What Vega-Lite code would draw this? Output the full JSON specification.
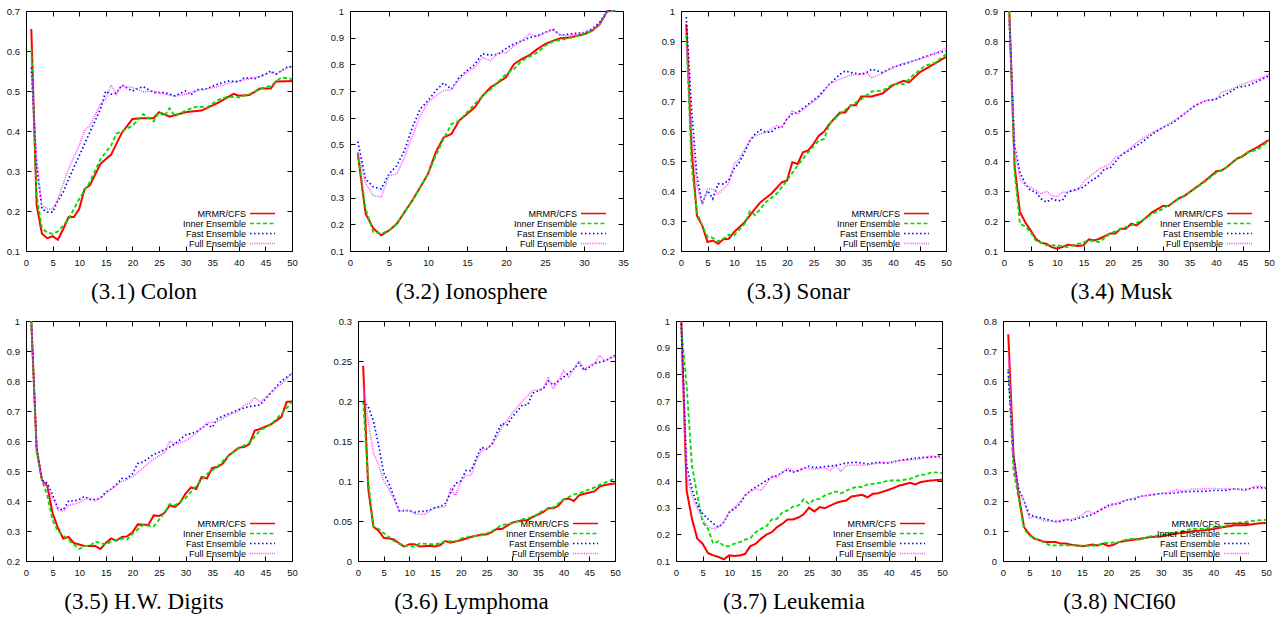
{
"$schema": "https://vega.github.io/schema/vega-lite/v6.json",
"background": "white",
"padding": {"left": 5, "top": 5, "right": 5, "bottom": 5},
"config": {
 "view": {"stroke": "black", "strokeWidth": 1},
 "axis": {"labelFont": "Liberation Sans", "labelFontSize": 9.5, "labelColor": "#111", "tickColor": "black", "tickSize": -5, "labelPadding": 11.5, "labelFlush": false, "domain": false, "grid": false, "title": null, "format": "~g"},
 "legend": {"orient": "bottom-right", "offset": 2, "padding": 0, "rowPadding": 0, "labelFont": "Liberation Sans", "labelFontSize": 9, "labelColor": "black", "labelAlign": "right", "labelOffset": -30, "symbolType": "M-6.14,0H1M4.4,0", "symbolSize": 49, "symbolStrokeWidth": 1.5, "title": null},
 "title": {"font": "Liberation Serif", "fontSize": 23, "fontWeight": "normal", "color": "black", "orient": "bottom", "offset": 14, "dx": -15},
 "line": {"clip": true}
},
"datasets": {
"colon": [
{"s":"M","x":1,"y":0.655},{"s":"M","x":2,"y":0.214},{"s":"M","x":3,"y":0.143},{"s":"M","x":4,"y":0.132},{"s":"M","x":5,"y":0.137},{"s":"M","x":6,"y":0.128},{"s":"M","x":7,"y":0.155},{"s":"M","x":8,"y":0.185},{"s":"M","x":9,"y":0.185},{"s":"M","x":10,"y":0.205},{"s":"M","x":11,"y":0.255},{"s":"M","x":12,"y":0.264},{"s":"M","x":14,"y":0.318},{"s":"M","x":16,"y":0.341},{"s":"M","x":18,"y":0.395},{"s":"M","x":20,"y":0.43},{"s":"M","x":22,"y":0.432},{"s":"M","x":24,"y":0.432},{"s":"M","x":25,"y":0.447},{"s":"M","x":27,"y":0.436},{"s":"M","x":30,"y":0.447},{"s":"M","x":33,"y":0.451},{"s":"M","x":36,"y":0.47},{"s":"M","x":39,"y":0.493},{"s":"M","x":40,"y":0.488},{"s":"M","x":42,"y":0.49},{"s":"M","x":44,"y":0.506},{"s":"M","x":46,"y":0.506},{"s":"M","x":47,"y":0.524},{"s":"M","x":50,"y":0.525},
{"s":"I","x":1,"y":0.605},{"s":"I","x":2,"y":0.239},{"s":"I","x":3,"y":0.156},{"s":"I","x":4,"y":0.147},{"s":"I","x":5,"y":0.143},{"s":"I","x":6,"y":0.149},{"s":"I","x":7,"y":0.164},{"s":"I","x":8,"y":0.18},{"s":"I","x":10,"y":0.23},{"s":"I","x":12,"y":0.272},{"s":"I","x":14,"y":0.33},{"s":"I","x":16,"y":0.364},{"s":"I","x":17,"y":0.393},{"s":"I","x":20,"y":0.413},{"s":"I","x":22,"y":0.442},{"s":"I","x":24,"y":0.424},{"s":"I","x":25,"y":0.447},{"s":"I","x":26,"y":0.437},{"s":"I","x":27,"y":0.457},{"s":"I","x":28,"y":0.437},{"s":"I","x":30,"y":0.451},{"s":"I","x":32,"y":0.461},{"s":"I","x":34,"y":0.459},{"s":"I","x":36,"y":0.477},{"s":"I","x":38,"y":0.486},{"s":"I","x":40,"y":0.484},{"s":"I","x":42,"y":0.492},{"s":"I","x":44,"y":0.506},{"s":"I","x":46,"y":0.513},{"s":"I","x":48,"y":0.534},{"s":"I","x":50,"y":0.53},
{"s":"F","x":1,"y":0.559},{"s":"F","x":2,"y":0.314},{"s":"F","x":3,"y":0.205},{"s":"F","x":4,"y":0.197},{"s":"F","x":5,"y":0.197},{"s":"F","x":6,"y":0.226},{"s":"F","x":7,"y":0.247},{"s":"F","x":8,"y":0.28},{"s":"F","x":10,"y":0.338},{"s":"F","x":12,"y":0.397},{"s":"F","x":14,"y":0.455},{"s":"F","x":15,"y":0.5},{"s":"F","x":16,"y":0.492},{"s":"F","x":17,"y":0.495},{"s":"F","x":18,"y":0.515},{"s":"F","x":20,"y":0.5},{"s":"F","x":22,"y":0.511},{"s":"F","x":24,"y":0.496},{"s":"F","x":26,"y":0.496},{"s":"F","x":28,"y":0.488},{"s":"F","x":30,"y":0.5},{"s":"F","x":31,"y":0.49},{"s":"F","x":32,"y":0.503},{"s":"F","x":34,"y":0.506},{"s":"F","x":36,"y":0.517},{"s":"F","x":38,"y":0.525},{"s":"F","x":40,"y":0.523},{"s":"F","x":41,"y":0.533},{"s":"F","x":43,"y":0.531},{"s":"F","x":45,"y":0.542},{"s":"F","x":46,"y":0.55},{"s":"F","x":47,"y":0.542},{"s":"F","x":49,"y":0.559},{"s":"F","x":50,"y":0.561},
{"s":"U","x":1,"y":0.55},{"s":"U","x":2,"y":0.33},{"s":"U","x":3,"y":0.214},{"s":"U","x":4,"y":0.205},{"s":"U","x":5,"y":0.205},{"s":"U","x":6,"y":0.23},{"s":"U","x":7,"y":0.268},{"s":"U","x":8,"y":0.305},{"s":"U","x":10,"y":0.364},{"s":"U","x":11,"y":0.401},{"s":"U","x":12,"y":0.413},{"s":"U","x":14,"y":0.467},{"s":"U","x":15,"y":0.48},{"s":"U","x":16,"y":0.515},{"s":"U","x":17,"y":0.492},{"s":"U","x":18,"y":0.513},{"s":"U","x":20,"y":0.509},{"s":"U","x":22,"y":0.498},{"s":"U","x":24,"y":0.5},{"s":"U","x":26,"y":0.492},{"s":"U","x":28,"y":0.487},{"s":"U","x":30,"y":0.492},{"s":"U","x":32,"y":0.5},{"s":"U","x":34,"y":0.505},{"s":"U","x":36,"y":0.511},{"s":"U","x":38,"y":0.519},{"s":"U","x":40,"y":0.525},{"s":"U","x":42,"y":0.531},{"s":"U","x":44,"y":0.536},{"s":"U","x":46,"y":0.547},{"s":"U","x":47,"y":0.542},{"s":"U","x":48,"y":0.55},{"s":"U","x":50,"y":0.563}
],
"iono": [
{"s":"M","x":1,"y":0.464},{"s":"M","x":2,"y":0.24},{"s":"M","x":3,"y":0.184},{"s":"M","x":4,"y":0.159},{"s":"M","x":5,"y":0.177},{"s":"M","x":6,"y":0.202},{"s":"M","x":7,"y":0.246},{"s":"M","x":8,"y":0.29},{"s":"M","x":9,"y":0.339},{"s":"M","x":10,"y":0.389},{"s":"M","x":11,"y":0.47},{"s":"M","x":12,"y":0.526},{"s":"M","x":13,"y":0.539},{"s":"M","x":14,"y":0.589},{"s":"M","x":15,"y":0.614},{"s":"M","x":16,"y":0.639},{"s":"M","x":17,"y":0.682},{"s":"M","x":18,"y":0.713},{"s":"M","x":19,"y":0.732},{"s":"M","x":20,"y":0.751},{"s":"M","x":21,"y":0.8},{"s":"M","x":22,"y":0.82},{"s":"M","x":23,"y":0.834},{"s":"M","x":24,"y":0.857},{"s":"M","x":25,"y":0.876},{"s":"M","x":26,"y":0.888},{"s":"M","x":27,"y":0.898},{"s":"M","x":28,"y":0.9},{"s":"M","x":30,"y":0.913},{"s":"M","x":31,"y":0.925},{"s":"M","x":32,"y":0.95},{"s":"M","x":33,"y":1.0},{"s":"M","x":34,"y":1.0},
{"s":"I","x":1,"y":0.47},{"s":"I","x":2,"y":0.258},{"s":"I","x":3,"y":0.171},{"s":"I","x":4,"y":0.165},{"s":"I","x":5,"y":0.177},{"s":"I","x":6,"y":0.202},{"s":"I","x":7,"y":0.246},{"s":"I","x":8,"y":0.29},{"s":"I","x":9,"y":0.339},{"s":"I","x":10,"y":0.389},{"s":"I","x":11,"y":0.458},{"s":"I","x":12,"y":0.52},{"s":"I","x":13,"y":0.576},{"s":"I","x":14,"y":0.589},{"s":"I","x":16,"y":0.651},{"s":"I","x":17,"y":0.682},{"s":"I","x":18,"y":0.705},{"s":"I","x":20,"y":0.763},{"s":"I","x":21,"y":0.782},{"s":"I","x":22,"y":0.813},{"s":"I","x":24,"y":0.844},{"s":"I","x":25,"y":0.87},{"s":"I","x":26,"y":0.885},{"s":"I","x":28,"y":0.898},{"s":"I","x":30,"y":0.913},{"s":"I","x":31,"y":0.925},{"s":"I","x":32,"y":0.95},{"s":"I","x":33,"y":1.0},{"s":"I","x":34,"y":1.0},
{"s":"F","x":1,"y":0.51},{"s":"F","x":2,"y":0.37},{"s":"F","x":3,"y":0.34},{"s":"F","x":4,"y":0.333},{"s":"F","x":5,"y":0.389},{"s":"F","x":6,"y":0.42},{"s":"F","x":7,"y":0.477},{"s":"F","x":8,"y":0.564},{"s":"F","x":9,"y":0.632},{"s":"F","x":10,"y":0.664},{"s":"F","x":11,"y":0.701},{"s":"F","x":12,"y":0.73},{"s":"F","x":13,"y":0.707},{"s":"F","x":14,"y":0.751},{"s":"F","x":15,"y":0.776},{"s":"F","x":16,"y":0.8},{"s":"F","x":17,"y":0.84},{"s":"F","x":18,"y":0.834},{"s":"F","x":19,"y":0.838},{"s":"F","x":20,"y":0.859},{"s":"F","x":21,"y":0.876},{"s":"F","x":22,"y":0.888},{"s":"F","x":23,"y":0.9},{"s":"F","x":24,"y":0.907},{"s":"F","x":25,"y":0.919},{"s":"F","x":26,"y":0.932},{"s":"F","x":27,"y":0.909},{"s":"F","x":28,"y":0.913},{"s":"F","x":30,"y":0.919},{"s":"F","x":31,"y":0.932},{"s":"F","x":32,"y":0.957},{"s":"F","x":33,"y":1.0},{"s":"F","x":34,"y":1.0},
{"s":"U","x":1,"y":0.47},{"s":"U","x":2,"y":0.352},{"s":"U","x":3,"y":0.308},{"s":"U","x":4,"y":0.302},{"s":"U","x":5,"y":0.383},{"s":"U","x":6,"y":0.389},{"s":"U","x":7,"y":0.452},{"s":"U","x":8,"y":0.533},{"s":"U","x":9,"y":0.607},{"s":"U","x":10,"y":0.657},{"s":"U","x":11,"y":0.682},{"s":"U","x":12,"y":0.701},{"s":"U","x":13,"y":0.705},{"s":"U","x":14,"y":0.745},{"s":"U","x":15,"y":0.77},{"s":"U","x":16,"y":0.788},{"s":"U","x":17,"y":0.826},{"s":"U","x":18,"y":0.813},{"s":"U","x":19,"y":0.844},{"s":"U","x":20,"y":0.842},{"s":"U","x":21,"y":0.869},{"s":"U","x":22,"y":0.888},{"s":"U","x":23,"y":0.915},{"s":"U","x":24,"y":0.904},{"s":"U","x":25,"y":0.919},{"s":"U","x":26,"y":0.929},{"s":"U","x":27,"y":0.909},{"s":"U","x":28,"y":0.907},{"s":"U","x":30,"y":0.919},{"s":"U","x":31,"y":0.929},{"s":"U","x":32,"y":0.954},{"s":"U","x":33,"y":0.996},{"s":"U","x":34,"y":1.0}
],
"sonar": [
{"s":"M","x":1,"y":0.956},{"s":"M","x":2,"y":0.54},{"s":"M","x":3,"y":0.318},{"s":"M","x":4,"y":0.285},{"s":"M","x":5,"y":0.23},{"s":"M","x":6,"y":0.235},{"s":"M","x":7,"y":0.224},{"s":"M","x":8,"y":0.239},{"s":"M","x":9,"y":0.241},{"s":"M","x":10,"y":0.263},{"s":"M","x":12,"y":0.296},{"s":"M","x":14,"y":0.341},{"s":"M","x":15,"y":0.363},{"s":"M","x":17,"y":0.39},{"s":"M","x":19,"y":0.429},{"s":"M","x":20,"y":0.435},{"s":"M","x":21,"y":0.496},{"s":"M","x":22,"y":0.49},{"s":"M","x":23,"y":0.529},{"s":"M","x":24,"y":0.535},{"s":"M","x":25,"y":0.557},{"s":"M","x":26,"y":0.584},{"s":"M","x":27,"y":0.598},{"s":"M","x":28,"y":0.623},{"s":"M","x":30,"y":0.662},{"s":"M","x":31,"y":0.662},{"s":"M","x":32,"y":0.686},{"s":"M","x":33,"y":0.686},{"s":"M","x":34,"y":0.715},{"s":"M","x":36,"y":0.715},{"s":"M","x":38,"y":0.725},{"s":"M","x":40,"y":0.753},{"s":"M","x":42,"y":0.767},{"s":"M","x":43,"y":0.762},{"s":"M","x":45,"y":0.795},{"s":"M","x":48,"y":0.826},{"s":"M","x":50,"y":0.847},
{"s":"I","x":1,"y":0.92},{"s":"I","x":2,"y":0.485},{"s":"I","x":3,"y":0.33},{"s":"I","x":4,"y":0.285},{"s":"I","x":5,"y":0.247},{"s":"I","x":6,"y":0.244},{"s":"I","x":7,"y":0.232},{"s":"I","x":8,"y":0.241},{"s":"I","x":9,"y":0.254},{"s":"I","x":10,"y":0.252},{"s":"I","x":12,"y":0.291},{"s":"I","x":13,"y":0.332},{"s":"I","x":14,"y":0.319},{"s":"I","x":16,"y":0.363},{"s":"I","x":18,"y":0.39},{"s":"I","x":20,"y":0.435},{"s":"I","x":22,"y":0.485},{"s":"I","x":24,"y":0.529},{"s":"I","x":26,"y":0.568},{"s":"I","x":27,"y":0.573},{"s":"I","x":28,"y":0.623},{"s":"I","x":30,"y":0.657},{"s":"I","x":32,"y":0.684},{"s":"I","x":34,"y":0.706},{"s":"I","x":36,"y":0.732},{"s":"I","x":38,"y":0.734},{"s":"I","x":40,"y":0.756},{"s":"I","x":42,"y":0.756},{"s":"I","x":44,"y":0.789},{"s":"I","x":46,"y":0.817},{"s":"I","x":48,"y":0.828},{"s":"I","x":50,"y":0.856},
{"s":"F","x":1,"y":0.98},{"s":"F","x":2,"y":0.673},{"s":"F","x":3,"y":0.45},{"s":"F","x":4,"y":0.357},{"s":"F","x":5,"y":0.402},{"s":"F","x":6,"y":0.374},{"s":"F","x":7,"y":0.424},{"s":"F","x":8,"y":0.424},{"s":"F","x":9,"y":0.435},{"s":"F","x":10,"y":0.474},{"s":"F","x":11,"y":0.496},{"s":"F","x":12,"y":0.529},{"s":"F","x":13,"y":0.568},{"s":"F","x":14,"y":0.59},{"s":"F","x":15,"y":0.604},{"s":"F","x":16,"y":0.596},{"s":"F","x":17,"y":0.596},{"s":"F","x":18,"y":0.612},{"s":"F","x":19,"y":0.612},{"s":"F","x":20,"y":0.64},{"s":"F","x":21,"y":0.657},{"s":"F","x":22,"y":0.662},{"s":"F","x":24,"y":0.689},{"s":"F","x":26,"y":0.717},{"s":"F","x":28,"y":0.756},{"s":"F","x":30,"y":0.789},{"s":"F","x":31,"y":0.8},{"s":"F","x":32,"y":0.795},{"s":"F","x":34,"y":0.789},{"s":"F","x":35,"y":0.795},{"s":"F","x":36,"y":0.806},{"s":"F","x":38,"y":0.795},{"s":"F","x":40,"y":0.812},{"s":"F","x":42,"y":0.823},{"s":"F","x":44,"y":0.834},{"s":"F","x":46,"y":0.848},{"s":"F","x":48,"y":0.859},{"s":"F","x":50,"y":0.867},
{"s":"U","x":1,"y":0.9},{"s":"U","x":2,"y":0.6},{"s":"U","x":3,"y":0.42},{"s":"U","x":4,"y":0.355},{"s":"U","x":5,"y":0.407},{"s":"U","x":6,"y":0.407},{"s":"U","x":7,"y":0.39},{"s":"U","x":8,"y":0.407},{"s":"U","x":9,"y":0.424},{"s":"U","x":10,"y":0.49},{"s":"U","x":11,"y":0.507},{"s":"U","x":12,"y":0.54},{"s":"U","x":13,"y":0.568},{"s":"U","x":14,"y":0.584},{"s":"U","x":16,"y":0.596},{"s":"U","x":18,"y":0.618},{"s":"U","x":19,"y":0.612},{"s":"U","x":20,"y":0.64},{"s":"U","x":21,"y":0.668},{"s":"U","x":22,"y":0.657},{"s":"U","x":24,"y":0.684},{"s":"U","x":26,"y":0.712},{"s":"U","x":28,"y":0.756},{"s":"U","x":30,"y":0.773},{"s":"U","x":32,"y":0.786},{"s":"U","x":34,"y":0.789},{"s":"U","x":35,"y":0.793},{"s":"U","x":36,"y":0.776},{"s":"U","x":38,"y":0.793},{"s":"U","x":40,"y":0.812},{"s":"U","x":42,"y":0.826},{"s":"U","x":44,"y":0.834},{"s":"U","x":46,"y":0.845},{"s":"U","x":48,"y":0.859},{"s":"U","x":50,"y":0.878}
],
"musk": [
{"s":"M","x":1,"y":0.9},{"s":"M","x":2,"y":0.385},{"s":"M","x":3,"y":0.23},{"s":"M","x":4,"y":0.196},{"s":"M","x":5,"y":0.169},{"s":"M","x":6,"y":0.141},{"s":"M","x":7,"y":0.127},{"s":"M","x":8,"y":0.124},{"s":"M","x":9,"y":0.113},{"s":"M","x":10,"y":0.108},{"s":"M","x":11,"y":0.113},{"s":"M","x":12,"y":0.121},{"s":"M","x":14,"y":0.117},{"s":"M","x":15,"y":0.119},{"s":"M","x":16,"y":0.139},{"s":"M","x":17,"y":0.135},{"s":"M","x":18,"y":0.141},{"s":"M","x":20,"y":0.158},{"s":"M","x":21,"y":0.158},{"s":"M","x":22,"y":0.174},{"s":"M","x":23,"y":0.174},{"s":"M","x":24,"y":0.191},{"s":"M","x":25,"y":0.185},{"s":"M","x":26,"y":0.199},{"s":"M","x":28,"y":0.23},{"s":"M","x":30,"y":0.25},{"s":"M","x":31,"y":0.25},{"s":"M","x":33,"y":0.276},{"s":"M","x":34,"y":0.283},{"s":"M","x":36,"y":0.309},{"s":"M","x":38,"y":0.335},{"s":"M","x":40,"y":0.365},{"s":"M","x":41,"y":0.368},{"s":"M","x":42,"y":0.379},{"s":"M","x":44,"y":0.409},{"s":"M","x":45,"y":0.415},{"s":"M","x":46,"y":0.429},{"s":"M","x":48,"y":0.448},{"s":"M","x":50,"y":0.47},
{"s":"I","x":1,"y":0.9},{"s":"I","x":2,"y":0.363},{"s":"I","x":3,"y":0.191},{"s":"I","x":4,"y":0.182},{"s":"I","x":5,"y":0.163},{"s":"I","x":6,"y":0.135},{"s":"I","x":8,"y":0.119},{"s":"I","x":10,"y":0.119},{"s":"I","x":12,"y":0.113},{"s":"I","x":14,"y":0.124},{"s":"I","x":16,"y":0.135},{"s":"I","x":18,"y":0.13},{"s":"I","x":20,"y":0.158},{"s":"I","x":22,"y":0.174},{"s":"I","x":24,"y":0.185},{"s":"I","x":26,"y":0.202},{"s":"I","x":28,"y":0.224},{"s":"I","x":30,"y":0.241},{"s":"I","x":32,"y":0.263},{"s":"I","x":34,"y":0.285},{"s":"I","x":36,"y":0.307},{"s":"I","x":38,"y":0.332},{"s":"I","x":40,"y":0.36},{"s":"I","x":42,"y":0.379},{"s":"I","x":44,"y":0.407},{"s":"I","x":46,"y":0.427},{"s":"I","x":48,"y":0.44},{"s":"I","x":50,"y":0.468},
{"s":"F","x":1,"y":0.87},{"s":"F","x":2,"y":0.451},{"s":"F","x":3,"y":0.363},{"s":"F","x":4,"y":0.324},{"s":"F","x":5,"y":0.302},{"s":"F","x":6,"y":0.296},{"s":"F","x":7,"y":0.274},{"s":"F","x":8,"y":0.263},{"s":"F","x":9,"y":0.274},{"s":"F","x":10,"y":0.268},{"s":"F","x":11,"y":0.268},{"s":"F","x":12,"y":0.296},{"s":"F","x":13,"y":0.302},{"s":"F","x":14,"y":0.307},{"s":"F","x":15,"y":0.313},{"s":"F","x":16,"y":0.329},{"s":"F","x":17,"y":0.34},{"s":"F","x":18,"y":0.352},{"s":"F","x":19,"y":0.374},{"s":"F","x":20,"y":0.376},{"s":"F","x":22,"y":0.418},{"s":"F","x":24,"y":0.44},{"s":"F","x":26,"y":0.462},{"s":"F","x":28,"y":0.49},{"s":"F","x":30,"y":0.512},{"s":"F","x":32,"y":0.529},{"s":"F","x":34,"y":0.557},{"s":"F","x":36,"y":0.584},{"s":"F","x":38,"y":0.601},{"s":"F","x":40,"y":0.606},{"s":"F","x":42,"y":0.623},{"s":"F","x":44,"y":0.645},{"s":"F","x":46,"y":0.651},{"s":"F","x":48,"y":0.667},{"s":"F","x":50,"y":0.684},
{"s":"U","x":1,"y":0.87},{"s":"U","x":2,"y":0.44},{"s":"U","x":3,"y":0.34},{"s":"U","x":4,"y":0.318},{"s":"U","x":5,"y":0.313},{"s":"U","x":6,"y":0.302},{"s":"U","x":7,"y":0.291},{"s":"U","x":8,"y":0.298},{"s":"U","x":9,"y":0.285},{"s":"U","x":10,"y":0.28},{"s":"U","x":11,"y":0.296},{"s":"U","x":12,"y":0.296},{"s":"U","x":14,"y":0.305},{"s":"U","x":15,"y":0.329},{"s":"U","x":16,"y":0.346},{"s":"U","x":18,"y":0.374},{"s":"U","x":20,"y":0.39},{"s":"U","x":21,"y":0.412},{"s":"U","x":22,"y":0.418},{"s":"U","x":24,"y":0.446},{"s":"U","x":26,"y":0.473},{"s":"U","x":28,"y":0.495},{"s":"U","x":30,"y":0.512},{"s":"U","x":32,"y":0.534},{"s":"U","x":34,"y":0.557},{"s":"U","x":36,"y":0.584},{"s":"U","x":38,"y":0.601},{"s":"U","x":40,"y":0.606},{"s":"U","x":41,"y":0.628},{"s":"U","x":43,"y":0.64},{"s":"U","x":44,"y":0.649},{"s":"U","x":46,"y":0.662},{"s":"U","x":48,"y":0.673},{"s":"U","x":50,"y":0.69}
],
"digits": [
{"s":"M","x":1,"y":1.0},{"s":"M","x":2,"y":0.573},{"s":"M","x":3,"y":0.47},{"s":"M","x":4,"y":0.45},{"s":"M","x":5,"y":0.36},{"s":"M","x":6,"y":0.31},{"s":"M","x":7,"y":0.275},{"s":"M","x":8,"y":0.28},{"s":"M","x":9,"y":0.26},{"s":"M","x":10,"y":0.255},{"s":"M","x":11,"y":0.25},{"s":"M","x":13,"y":0.25},{"s":"M","x":14,"y":0.24},{"s":"M","x":15,"y":0.26},{"s":"M","x":16,"y":0.275},{"s":"M","x":17,"y":0.268},{"s":"M","x":18,"y":0.28},{"s":"M","x":19,"y":0.282},{"s":"M","x":20,"y":0.295},{"s":"M","x":21,"y":0.322},{"s":"M","x":23,"y":0.32},{"s":"M","x":24,"y":0.352},{"s":"M","x":25,"y":0.35},{"s":"M","x":26,"y":0.36},{"s":"M","x":27,"y":0.385},{"s":"M","x":28,"y":0.38},{"s":"M","x":29,"y":0.395},{"s":"M","x":30,"y":0.425},{"s":"M","x":31,"y":0.445},{"s":"M","x":32,"y":0.44},{"s":"M","x":33,"y":0.48},{"s":"M","x":34,"y":0.475},{"s":"M","x":35,"y":0.51},{"s":"M","x":36,"y":0.513},{"s":"M","x":37,"y":0.525},{"s":"M","x":38,"y":0.55},{"s":"M","x":40,"y":0.578},{"s":"M","x":41,"y":0.58},{"s":"M","x":42,"y":0.59},{"s":"M","x":43,"y":0.635},{"s":"M","x":44,"y":0.64},{"s":"M","x":46,"y":0.655},{"s":"M","x":48,"y":0.68},{"s":"M","x":49,"y":0.73},{"s":"M","x":50,"y":0.732},
{"s":"I","x":1,"y":1.0},{"s":"I","x":2,"y":0.56},{"s":"I","x":3,"y":0.47},{"s":"I","x":4,"y":0.418},{"s":"I","x":5,"y":0.335},{"s":"I","x":6,"y":0.3},{"s":"I","x":7,"y":0.285},{"s":"I","x":8,"y":0.27},{"s":"I","x":9,"y":0.255},{"s":"I","x":10,"y":0.24},{"s":"I","x":11,"y":0.25},{"s":"I","x":12,"y":0.25},{"s":"I","x":13,"y":0.265},{"s":"I","x":14,"y":0.26},{"s":"I","x":15,"y":0.255},{"s":"I","x":16,"y":0.265},{"s":"I","x":18,"y":0.275},{"s":"I","x":19,"y":0.272},{"s":"I","x":20,"y":0.29},{"s":"I","x":22,"y":0.32},{"s":"I","x":24,"y":0.315},{"s":"I","x":26,"y":0.36},{"s":"I","x":27,"y":0.39},{"s":"I","x":28,"y":0.385},{"s":"I","x":30,"y":0.41},{"s":"I","x":32,"y":0.45},{"s":"I","x":34,"y":0.49},{"s":"I","x":36,"y":0.515},{"s":"I","x":38,"y":0.55},{"s":"I","x":40,"y":0.575},{"s":"I","x":42,"y":0.595},{"s":"I","x":44,"y":0.635},{"s":"I","x":46,"y":0.655},{"s":"I","x":48,"y":0.69},{"s":"I","x":50,"y":0.73},
{"s":"F","x":1,"y":1.0},{"s":"F","x":2,"y":0.58},{"s":"F","x":3,"y":0.47},{"s":"F","x":4,"y":0.46},{"s":"F","x":5,"y":0.42},{"s":"F","x":6,"y":0.375},{"s":"F","x":7,"y":0.37},{"s":"F","x":8,"y":0.4},{"s":"F","x":9,"y":0.4},{"s":"F","x":10,"y":0.405},{"s":"F","x":11,"y":0.415},{"s":"F","x":12,"y":0.405},{"s":"F","x":13,"y":0.405},{"s":"F","x":14,"y":0.41},{"s":"F","x":15,"y":0.43},{"s":"F","x":16,"y":0.44},{"s":"F","x":17,"y":0.455},{"s":"F","x":18,"y":0.475},{"s":"F","x":19,"y":0.475},{"s":"F","x":20,"y":0.49},{"s":"F","x":21,"y":0.525},{"s":"F","x":22,"y":0.53},{"s":"F","x":24,"y":0.555},{"s":"F","x":26,"y":0.57},{"s":"F","x":28,"y":0.59},{"s":"F","x":30,"y":0.62},{"s":"F","x":32,"y":0.63},{"s":"F","x":34,"y":0.655},{"s":"F","x":35,"y":0.645},{"s":"F","x":36,"y":0.675},{"s":"F","x":38,"y":0.69},{"s":"F","x":40,"y":0.705},{"s":"F","x":42,"y":0.715},{"s":"F","x":44,"y":0.72},{"s":"F","x":46,"y":0.76},{"s":"F","x":48,"y":0.8},{"s":"F","x":50,"y":0.825},
{"s":"U","x":1,"y":1.0},{"s":"U","x":2,"y":0.57},{"s":"U","x":3,"y":0.47},{"s":"U","x":4,"y":0.45},{"s":"U","x":5,"y":0.41},{"s":"U","x":6,"y":0.37},{"s":"U","x":7,"y":0.365},{"s":"U","x":8,"y":0.385},{"s":"U","x":9,"y":0.39},{"s":"U","x":10,"y":0.395},{"s":"U","x":11,"y":0.405},{"s":"U","x":12,"y":0.41},{"s":"U","x":13,"y":0.4},{"s":"U","x":14,"y":0.41},{"s":"U","x":15,"y":0.425},{"s":"U","x":16,"y":0.44},{"s":"U","x":18,"y":0.465},{"s":"U","x":20,"y":0.48},{"s":"U","x":22,"y":0.51},{"s":"U","x":24,"y":0.54},{"s":"U","x":26,"y":0.56},{"s":"U","x":27,"y":0.6},{"s":"U","x":28,"y":0.59},{"s":"U","x":30,"y":0.6},{"s":"U","x":32,"y":0.625},{"s":"U","x":34,"y":0.66},{"s":"U","x":36,"y":0.665},{"s":"U","x":38,"y":0.685},{"s":"U","x":40,"y":0.7},{"s":"U","x":41,"y":0.72},{"s":"U","x":42,"y":0.725},{"s":"U","x":43,"y":0.745},{"s":"U","x":44,"y":0.73},{"s":"U","x":46,"y":0.76},{"s":"U","x":48,"y":0.79},{"s":"U","x":50,"y":0.825}
],
"lymph": [
{"s":"M","x":1,"y":0.244},{"s":"M","x":2,"y":0.09},{"s":"M","x":3,"y":0.043},{"s":"M","x":4,"y":0.038},{"s":"M","x":5,"y":0.029},{"s":"M","x":6,"y":0.028},{"s":"M","x":7,"y":0.027},{"s":"M","x":8,"y":0.022},{"s":"M","x":9,"y":0.018},{"s":"M","x":10,"y":0.021},{"s":"M","x":11,"y":0.021},{"s":"M","x":12,"y":0.018},{"s":"M","x":14,"y":0.019},{"s":"M","x":15,"y":0.018},{"s":"M","x":16,"y":0.02},{"s":"M","x":17,"y":0.025},{"s":"M","x":18,"y":0.023},{"s":"M","x":20,"y":0.026},{"s":"M","x":22,"y":0.03},{"s":"M","x":24,"y":0.033},{"s":"M","x":25,"y":0.033},{"s":"M","x":26,"y":0.036},{"s":"M","x":27,"y":0.04},{"s":"M","x":28,"y":0.04},{"s":"M","x":30,"y":0.048},{"s":"M","x":32,"y":0.051},{"s":"M","x":33,"y":0.051},{"s":"M","x":34,"y":0.055},{"s":"M","x":36,"y":0.061},{"s":"M","x":37,"y":0.066},{"s":"M","x":38,"y":0.066},{"s":"M","x":39,"y":0.069},{"s":"M","x":40,"y":0.077},{"s":"M","x":41,"y":0.078},{"s":"M","x":42,"y":0.075},{"s":"M","x":43,"y":0.082},{"s":"M","x":44,"y":0.084},{"s":"M","x":46,"y":0.087},{"s":"M","x":47,"y":0.093},{"s":"M","x":48,"y":0.095},{"s":"M","x":50,"y":0.097},
{"s":"I","x":1,"y":0.2},{"s":"I","x":2,"y":0.1},{"s":"I","x":3,"y":0.043},{"s":"I","x":4,"y":0.04},{"s":"I","x":5,"y":0.035},{"s":"I","x":6,"y":0.03},{"s":"I","x":7,"y":0.025},{"s":"I","x":8,"y":0.022},{"s":"I","x":9,"y":0.019},{"s":"I","x":10,"y":0.019},{"s":"I","x":11,"y":0.018},{"s":"I","x":12,"y":0.022},{"s":"I","x":14,"y":0.021},{"s":"I","x":15,"y":0.021},{"s":"I","x":16,"y":0.022},{"s":"I","x":17,"y":0.025},{"s":"I","x":19,"y":0.024},{"s":"I","x":20,"y":0.028},{"s":"I","x":22,"y":0.031},{"s":"I","x":24,"y":0.032},{"s":"I","x":26,"y":0.037},{"s":"I","x":28,"y":0.045},{"s":"I","x":30,"y":0.047},{"s":"I","x":32,"y":0.052},{"s":"I","x":34,"y":0.055},{"s":"I","x":36,"y":0.063},{"s":"I","x":38,"y":0.067},{"s":"I","x":40,"y":0.077},{"s":"I","x":42,"y":0.083},{"s":"I","x":44,"y":0.087},{"s":"I","x":46,"y":0.092},{"s":"I","x":48,"y":0.098},{"s":"I","x":50,"y":0.103},
{"s":"F","x":1,"y":0.2},{"s":"F","x":2,"y":0.193},{"s":"F","x":3,"y":0.175},{"s":"F","x":4,"y":0.145},{"s":"F","x":5,"y":0.11},{"s":"F","x":6,"y":0.097},{"s":"F","x":7,"y":0.08},{"s":"F","x":8,"y":0.063},{"s":"F","x":9,"y":0.063},{"s":"F","x":10,"y":0.063},{"s":"F","x":11,"y":0.061},{"s":"F","x":12,"y":0.062},{"s":"F","x":13,"y":0.062},{"s":"F","x":14,"y":0.064},{"s":"F","x":15,"y":0.067},{"s":"F","x":16,"y":0.068},{"s":"F","x":17,"y":0.072},{"s":"F","x":18,"y":0.085},{"s":"F","x":19,"y":0.097},{"s":"F","x":20,"y":0.1},{"s":"F","x":21,"y":0.113},{"s":"F","x":22,"y":0.113},{"s":"F","x":23,"y":0.128},{"s":"F","x":24,"y":0.142},{"s":"F","x":25,"y":0.14},{"s":"F","x":26,"y":0.145},{"s":"F","x":27,"y":0.16},{"s":"F","x":28,"y":0.172},{"s":"F","x":29,"y":0.17},{"s":"F","x":30,"y":0.18},{"s":"F","x":32,"y":0.195},{"s":"F","x":33,"y":0.195},{"s":"F","x":34,"y":0.21},{"s":"F","x":36,"y":0.215},{"s":"F","x":37,"y":0.225},{"s":"F","x":38,"y":0.22},{"s":"F","x":40,"y":0.23},{"s":"F","x":42,"y":0.24},{"s":"F","x":43,"y":0.248},{"s":"F","x":44,"y":0.238},{"s":"F","x":46,"y":0.247},{"s":"F","x":48,"y":0.25},{"s":"F","x":50,"y":0.257},
{"s":"U","x":1,"y":0.22},{"s":"U","x":2,"y":0.175},{"s":"U","x":3,"y":0.135},{"s":"U","x":4,"y":0.12},{"s":"U","x":5,"y":0.1},{"s":"U","x":6,"y":0.09},{"s":"U","x":7,"y":0.077},{"s":"U","x":8,"y":0.062},{"s":"U","x":9,"y":0.063},{"s":"U","x":10,"y":0.063},{"s":"U","x":11,"y":0.059},{"s":"U","x":13,"y":0.058},{"s":"U","x":14,"y":0.063},{"s":"U","x":15,"y":0.066},{"s":"U","x":17,"y":0.068},{"s":"U","x":18,"y":0.09},{"s":"U","x":19,"y":0.082},{"s":"U","x":20,"y":0.1},{"s":"U","x":21,"y":0.107},{"s":"U","x":22,"y":0.107},{"s":"U","x":23,"y":0.125},{"s":"U","x":24,"y":0.137},{"s":"U","x":26,"y":0.145},{"s":"U","x":27,"y":0.155},{"s":"U","x":28,"y":0.167},{"s":"U","x":29,"y":0.175},{"s":"U","x":30,"y":0.185},{"s":"U","x":32,"y":0.2},{"s":"U","x":34,"y":0.213},{"s":"U","x":36,"y":0.215},{"s":"U","x":37,"y":0.23},{"s":"U","x":38,"y":0.215},{"s":"U","x":40,"y":0.238},{"s":"U","x":41,"y":0.23},{"s":"U","x":43,"y":0.25},{"s":"U","x":44,"y":0.24},{"s":"U","x":46,"y":0.247},{"s":"U","x":47,"y":0.257},{"s":"U","x":48,"y":0.25},{"s":"U","x":50,"y":0.256}
],
"leuk": [
{"s":"M","x":1,"y":1.0},{"s":"M","x":2,"y":0.364},{"s":"M","x":3,"y":0.258},{"s":"M","x":4,"y":0.184},{"s":"M","x":5,"y":0.165},{"s":"M","x":6,"y":0.13},{"s":"M","x":7,"y":0.121},{"s":"M","x":8,"y":0.115},{"s":"M","x":9,"y":0.106},{"s":"M","x":10,"y":0.121},{"s":"M","x":11,"y":0.119},{"s":"M","x":12,"y":0.121},{"s":"M","x":13,"y":0.127},{"s":"M","x":14,"y":0.156},{"s":"M","x":15,"y":0.165},{"s":"M","x":16,"y":0.184},{"s":"M","x":17,"y":0.199},{"s":"M","x":18,"y":0.208},{"s":"M","x":19,"y":0.227},{"s":"M","x":20,"y":0.24},{"s":"M","x":21,"y":0.256},{"s":"M","x":22,"y":0.256},{"s":"M","x":23,"y":0.263},{"s":"M","x":24,"y":0.275},{"s":"M","x":25,"y":0.3},{"s":"M","x":26,"y":0.286},{"s":"M","x":27,"y":0.302},{"s":"M","x":28,"y":0.298},{"s":"M","x":30,"y":0.317},{"s":"M","x":31,"y":0.323},{"s":"M","x":32,"y":0.327},{"s":"M","x":33,"y":0.342},{"s":"M","x":35,"y":0.348},{"s":"M","x":36,"y":0.339},{"s":"M","x":37,"y":0.352},{"s":"M","x":38,"y":0.354},{"s":"M","x":40,"y":0.367},{"s":"M","x":42,"y":0.383},{"s":"M","x":44,"y":0.393},{"s":"M","x":45,"y":0.387},{"s":"M","x":46,"y":0.396},{"s":"M","x":48,"y":0.402},{"s":"M","x":50,"y":0.405},
{"s":"I","x":1,"y":0.97},{"s":"I","x":2,"y":0.757},{"s":"I","x":3,"y":0.458},{"s":"I","x":4,"y":0.346},{"s":"I","x":5,"y":0.246},{"s":"I","x":6,"y":0.221},{"s":"I","x":7,"y":0.165},{"s":"I","x":8,"y":0.174},{"s":"I","x":9,"y":0.155},{"s":"I","x":10,"y":0.156},{"s":"I","x":11,"y":0.165},{"s":"I","x":12,"y":0.171},{"s":"I","x":13,"y":0.18},{"s":"I","x":14,"y":0.186},{"s":"I","x":15,"y":0.208},{"s":"I","x":16,"y":0.221},{"s":"I","x":17,"y":0.23},{"s":"I","x":18,"y":0.256},{"s":"I","x":19,"y":0.258},{"s":"I","x":20,"y":0.283},{"s":"I","x":21,"y":0.29},{"s":"I","x":22,"y":0.304},{"s":"I","x":23,"y":0.308},{"s":"I","x":24,"y":0.331},{"s":"I","x":25,"y":0.314},{"s":"I","x":26,"y":0.331},{"s":"I","x":27,"y":0.333},{"s":"I","x":28,"y":0.346},{"s":"I","x":30,"y":0.361},{"s":"I","x":31,"y":0.354},{"s":"I","x":32,"y":0.364},{"s":"I","x":34,"y":0.379},{"s":"I","x":35,"y":0.377},{"s":"I","x":36,"y":0.387},{"s":"I","x":38,"y":0.392},{"s":"I","x":40,"y":0.402},{"s":"I","x":42,"y":0.402},{"s":"I","x":44,"y":0.408},{"s":"I","x":46,"y":0.424},{"s":"I","x":47,"y":0.424},{"s":"I","x":48,"y":0.433},{"s":"I","x":50,"y":0.43},
{"s":"F","x":1,"y":0.99},{"s":"F","x":2,"y":0.458},{"s":"F","x":3,"y":0.37},{"s":"F","x":4,"y":0.308},{"s":"F","x":5,"y":0.277},{"s":"F","x":6,"y":0.258},{"s":"F","x":7,"y":0.24},{"s":"F","x":8,"y":0.227},{"s":"F","x":9,"y":0.246},{"s":"F","x":10,"y":0.283},{"s":"F","x":11,"y":0.296},{"s":"F","x":12,"y":0.314},{"s":"F","x":13,"y":0.346},{"s":"F","x":14,"y":0.364},{"s":"F","x":15,"y":0.377},{"s":"F","x":16,"y":0.389},{"s":"F","x":17,"y":0.402},{"s":"F","x":18,"y":0.414},{"s":"F","x":19,"y":0.42},{"s":"F","x":20,"y":0.433},{"s":"F","x":21,"y":0.442},{"s":"F","x":22,"y":0.433},{"s":"F","x":23,"y":0.439},{"s":"F","x":24,"y":0.448},{"s":"F","x":25,"y":0.455},{"s":"F","x":26,"y":0.45},{"s":"F","x":28,"y":0.454},{"s":"F","x":30,"y":0.458},{"s":"F","x":32,"y":0.468},{"s":"F","x":34,"y":0.47},{"s":"F","x":36,"y":0.464},{"s":"F","x":38,"y":0.47},{"s":"F","x":40,"y":0.467},{"s":"F","x":42,"y":0.477},{"s":"F","x":44,"y":0.483},{"s":"F","x":46,"y":0.488},{"s":"F","x":48,"y":0.489},{"s":"F","x":50,"y":0.495},
{"s":"U","x":1,"y":0.88},{"s":"U","x":2,"y":0.42},{"s":"U","x":3,"y":0.346},{"s":"U","x":4,"y":0.296},{"s":"U","x":5,"y":0.258},{"s":"U","x":6,"y":0.227},{"s":"U","x":7,"y":0.221},{"s":"U","x":8,"y":0.227},{"s":"U","x":9,"y":0.246},{"s":"U","x":10,"y":0.283},{"s":"U","x":11,"y":0.302},{"s":"U","x":12,"y":0.321},{"s":"U","x":13,"y":0.346},{"s":"U","x":14,"y":0.361},{"s":"U","x":15,"y":0.371},{"s":"U","x":16,"y":0.364},{"s":"U","x":17,"y":0.389},{"s":"U","x":18,"y":0.42},{"s":"U","x":19,"y":0.414},{"s":"U","x":20,"y":0.433},{"s":"U","x":21,"y":0.448},{"s":"U","x":22,"y":0.437},{"s":"U","x":23,"y":0.437},{"s":"U","x":24,"y":0.448},{"s":"U","x":26,"y":0.445},{"s":"U","x":28,"y":0.449},{"s":"U","x":29,"y":0.439},{"s":"U","x":30,"y":0.458},{"s":"U","x":31,"y":0.437},{"s":"U","x":32,"y":0.458},{"s":"U","x":34,"y":0.46},{"s":"U","x":36,"y":0.46},{"s":"U","x":38,"y":0.467},{"s":"U","x":40,"y":0.47},{"s":"U","x":42,"y":0.477},{"s":"U","x":44,"y":0.479},{"s":"U","x":46,"y":0.483},{"s":"U","x":48,"y":0.494},{"s":"U","x":50,"y":0.485}
],
"nci": [
{"s":"M","x":1,"y":0.756},{"s":"M","x":2,"y":0.351},{"s":"M","x":3,"y":0.218},{"s":"M","x":4,"y":0.113},{"s":"M","x":5,"y":0.089},{"s":"M","x":6,"y":0.074},{"s":"M","x":7,"y":0.069},{"s":"M","x":8,"y":0.063},{"s":"M","x":10,"y":0.063},{"s":"M","x":11,"y":0.058},{"s":"M","x":12,"y":0.058},{"s":"M","x":13,"y":0.054},{"s":"M","x":14,"y":0.052},{"s":"M","x":15,"y":0.049},{"s":"M","x":16,"y":0.052},{"s":"M","x":17,"y":0.055},{"s":"M","x":18,"y":0.052},{"s":"M","x":19,"y":0.058},{"s":"M","x":20,"y":0.05},{"s":"M","x":21,"y":0.054},{"s":"M","x":22,"y":0.063},{"s":"M","x":24,"y":0.069},{"s":"M","x":26,"y":0.074},{"s":"M","x":28,"y":0.08},{"s":"M","x":30,"y":0.082},{"s":"M","x":32,"y":0.088},{"s":"M","x":34,"y":0.094},{"s":"M","x":36,"y":0.099},{"s":"M","x":38,"y":0.102},{"s":"M","x":40,"y":0.107},{"s":"M","x":42,"y":0.113},{"s":"M","x":44,"y":0.119},{"s":"M","x":46,"y":0.119},{"s":"M","x":48,"y":0.124},{"s":"M","x":50,"y":0.127},
{"s":"I","x":1,"y":0.64},{"s":"I","x":2,"y":0.3},{"s":"I","x":3,"y":0.207},{"s":"I","x":4,"y":0.107},{"s":"I","x":5,"y":0.085},{"s":"I","x":6,"y":0.076},{"s":"I","x":7,"y":0.069},{"s":"I","x":8,"y":0.06},{"s":"I","x":9,"y":0.052},{"s":"I","x":10,"y":0.052},{"s":"I","x":12,"y":0.052},{"s":"I","x":14,"y":0.052},{"s":"I","x":16,"y":0.05},{"s":"I","x":18,"y":0.052},{"s":"I","x":19,"y":0.06},{"s":"I","x":20,"y":0.06},{"s":"I","x":22,"y":0.063},{"s":"I","x":24,"y":0.074},{"s":"I","x":26,"y":0.071},{"s":"I","x":28,"y":0.082},{"s":"I","x":30,"y":0.085},{"s":"I","x":31,"y":0.091},{"s":"I","x":32,"y":0.094},{"s":"I","x":34,"y":0.099},{"s":"I","x":36,"y":0.107},{"s":"I","x":38,"y":0.107},{"s":"I","x":40,"y":0.113},{"s":"I","x":42,"y":0.115},{"s":"I","x":44,"y":0.126},{"s":"I","x":46,"y":0.13},{"s":"I","x":48,"y":0.135},{"s":"I","x":50,"y":0.137},
{"s":"F","x":1,"y":0.63},{"s":"F","x":2,"y":0.35},{"s":"F","x":3,"y":0.24},{"s":"F","x":4,"y":0.2},{"s":"F","x":5,"y":0.155},{"s":"F","x":6,"y":0.148},{"s":"F","x":7,"y":0.145},{"s":"F","x":8,"y":0.14},{"s":"F","x":9,"y":0.135},{"s":"F","x":10,"y":0.132},{"s":"F","x":11,"y":0.132},{"s":"F","x":12,"y":0.138},{"s":"F","x":13,"y":0.135},{"s":"F","x":14,"y":0.14},{"s":"F","x":15,"y":0.145},{"s":"F","x":16,"y":0.15},{"s":"F","x":17,"y":0.155},{"s":"F","x":18,"y":0.165},{"s":"F","x":19,"y":0.175},{"s":"F","x":20,"y":0.185},{"s":"F","x":21,"y":0.19},{"s":"F","x":22,"y":0.19},{"s":"F","x":23,"y":0.2},{"s":"F","x":24,"y":0.205},{"s":"F","x":25,"y":0.205},{"s":"F","x":26,"y":0.215},{"s":"F","x":28,"y":0.22},{"s":"F","x":30,"y":0.225},{"s":"F","x":32,"y":0.225},{"s":"F","x":34,"y":0.23},{"s":"F","x":36,"y":0.232},{"s":"F","x":38,"y":0.232},{"s":"F","x":40,"y":0.235},{"s":"F","x":42,"y":0.235},{"s":"F","x":44,"y":0.24},{"s":"F","x":46,"y":0.238},{"s":"F","x":48,"y":0.245},{"s":"F","x":50,"y":0.243},
{"s":"U","x":1,"y":0.7},{"s":"U","x":2,"y":0.33},{"s":"U","x":3,"y":0.23},{"s":"U","x":4,"y":0.2},{"s":"U","x":5,"y":0.142},{"s":"U","x":6,"y":0.148},{"s":"U","x":7,"y":0.14},{"s":"U","x":8,"y":0.133},{"s":"U","x":9,"y":0.133},{"s":"U","x":10,"y":0.13},{"s":"U","x":11,"y":0.135},{"s":"U","x":12,"y":0.14},{"s":"U","x":13,"y":0.138},{"s":"U","x":14,"y":0.145},{"s":"U","x":15,"y":0.152},{"s":"U","x":16,"y":0.168},{"s":"U","x":17,"y":0.16},{"s":"U","x":18,"y":0.165},{"s":"U","x":19,"y":0.175},{"s":"U","x":20,"y":0.18},{"s":"U","x":22,"y":0.195},{"s":"U","x":24,"y":0.205},{"s":"U","x":26,"y":0.215},{"s":"U","x":28,"y":0.22},{"s":"U","x":30,"y":0.225},{"s":"U","x":32,"y":0.23},{"s":"U","x":33,"y":0.238},{"s":"U","x":34,"y":0.232},{"s":"U","x":36,"y":0.24},{"s":"U","x":38,"y":0.24},{"s":"U","x":40,"y":0.242},{"s":"U","x":42,"y":0.24},{"s":"U","x":44,"y":0.24},{"s":"U","x":45,"y":0.238},{"s":"U","x":46,"y":0.235},{"s":"U","x":48,"y":0.25},{"s":"U","x":50,"y":0.245}
]
},
"spacing": 10,
"vconcat": [
{"hconcat": [
 {"width": 266, "height": 240, "title": "(3.1) Colon", "data": {"name": "colon"},
  "layer": [
   {"mark": "line", "encoding": {
     "x": {"field": "x", "type": "quantitative", "scale": {"domain": [0, 50], "nice": false}, "axis": {"values": [0,5,10,15,20,25,30,35,40,45,50]}},
     "y": {"field": "y", "type": "quantitative", "scale": {"domain": [0.1, 0.7], "nice": false, "zero": false}, "axis": {"values": [0.1,0.2,0.3,0.4,0.5,0.6,0.7]}},
     "color": {"field": "s", "type": "nominal", "scale": {"domain": ["M","I","F","U"], "range": ["#ff0000","#00dd00","#0000ff","#ff44ff"]}, "legend": {"labelExpr": "{'M':'MRMR/CFS','I':'Inner Ensemble','F':'Fast Ensemble','U':'Full Ensemble'}[datum.label]"}},
     "strokeDash": {"field": "s", "type": "nominal", "scale": {"domain": ["M","I","F","U"], "range": [[10,0],[4,2.5],[1.5,2.5],[1,1.2]]}, "legend": {"labelExpr": "{'M':'MRMR/CFS','I':'Inner Ensemble','F':'Fast Ensemble','U':'Full Ensemble'}[datum.label]"}},
     "strokeWidth": {"field": "s", "type": "nominal", "scale": {"domain": ["M","I","F","U"], "range": [2,1.5,1.5,1.3]}, "legend": null}}},
   {"mark": {"type": "line", "opacity": 0}, "encoding": {
     "x": {"field": "x", "type": "quantitative", "axis": {"orient": "top", "labels": false, "values": [0,5,10,15,20,25,30,35,40,45,50]}},
     "y": {"field": "y", "type": "quantitative", "axis": {"orient": "right", "labels": false, "values": [0.1,0.2,0.3,0.4,0.5,0.6,0.7]}},
     "detail": {"field": "s"}}}
  ],
  "resolve": {"axis": {"x": "independent", "y": "independent"}}},
 {"width": 273, "height": 240, "title": "(3.2) Ionosphere", "data": {"name": "iono"},
  "layer": [
   {"mark": "line", "encoding": {
     "x": {"field": "x", "type": "quantitative", "scale": {"domain": [0, 35], "nice": false}, "axis": {"values": [0,5,10,15,20,25,30,35]}},
     "y": {"field": "y", "type": "quantitative", "scale": {"domain": [0.1, 1], "nice": false, "zero": false}, "axis": {"values": [0.1,0.2,0.3,0.4,0.5,0.6,0.7,0.8,0.9,1]}},
     "color": {"field": "s", "type": "nominal", "scale": {"domain": ["M","I","F","U"], "range": ["#ff0000","#00dd00","#0000ff","#ff44ff"]}, "legend": {"labelExpr": "{'M':'MRMR/CFS','I':'Inner Ensemble','F':'Fast Ensemble','U':'Full Ensemble'}[datum.label]"}},
     "strokeDash": {"field": "s", "type": "nominal", "scale": {"domain": ["M","I","F","U"], "range": [[10,0],[4,2.5],[1.5,2.5],[1,1.2]]}, "legend": {"labelExpr": "{'M':'MRMR/CFS','I':'Inner Ensemble','F':'Fast Ensemble','U':'Full Ensemble'}[datum.label]"}},
     "strokeWidth": {"field": "s", "type": "nominal", "scale": {"domain": ["M","I","F","U"], "range": [2,1.5,1.5,1.3]}, "legend": null}}},
   {"mark": {"type": "line", "opacity": 0}, "encoding": {
     "x": {"field": "x", "type": "quantitative", "axis": {"orient": "top", "labels": false, "values": [0,5,10,15,20,25,30,35]}},
     "y": {"field": "y", "type": "quantitative", "axis": {"orient": "right", "labels": false, "values": [0.1,0.2,0.3,0.4,0.5,0.6,0.7,0.8,0.9,1]}},
     "detail": {"field": "s"}}}
  ],
  "resolve": {"axis": {"x": "independent", "y": "independent"}}},
 {"width": 265, "height": 240, "title": "(3.3) Sonar", "data": {"name": "sonar"},
  "layer": [
   {"mark": "line", "encoding": {
     "x": {"field": "x", "type": "quantitative", "scale": {"domain": [0, 50], "nice": false}, "axis": {"values": [0,5,10,15,20,25,30,35,40,45,50]}},
     "y": {"field": "y", "type": "quantitative", "scale": {"domain": [0.2, 1], "nice": false, "zero": false}, "axis": {"values": [0.2,0.3,0.4,0.5,0.6,0.7,0.8,0.9,1]}},
     "color": {"field": "s", "type": "nominal", "scale": {"domain": ["M","I","F","U"], "range": ["#ff0000","#00dd00","#0000ff","#ff44ff"]}, "legend": {"labelExpr": "{'M':'MRMR/CFS','I':'Inner Ensemble','F':'Fast Ensemble','U':'Full Ensemble'}[datum.label]"}},
     "strokeDash": {"field": "s", "type": "nominal", "scale": {"domain": ["M","I","F","U"], "range": [[10,0],[4,2.5],[1.5,2.5],[1,1.2]]}, "legend": {"labelExpr": "{'M':'MRMR/CFS','I':'Inner Ensemble','F':'Fast Ensemble','U':'Full Ensemble'}[datum.label]"}},
     "strokeWidth": {"field": "s", "type": "nominal", "scale": {"domain": ["M","I","F","U"], "range": [2,1.5,1.5,1.3]}, "legend": null}}},
   {"mark": {"type": "line", "opacity": 0}, "encoding": {
     "x": {"field": "x", "type": "quantitative", "axis": {"orient": "top", "labels": false, "values": [0,5,10,15,20,25,30,35,40,45,50]}},
     "y": {"field": "y", "type": "quantitative", "axis": {"orient": "right", "labels": false, "values": [0.2,0.3,0.4,0.5,0.6,0.7,0.8,0.9,1]}},
     "detail": {"field": "s"}}}
  ],
  "resolve": {"axis": {"x": "independent", "y": "independent"}}},
 {"width": 265, "height": 240, "title": "(3.4) Musk", "data": {"name": "musk"},
  "layer": [
   {"mark": "line", "encoding": {
     "x": {"field": "x", "type": "quantitative", "scale": {"domain": [0, 50], "nice": false}, "axis": {"values": [0,5,10,15,20,25,30,35,40,45,50]}},
     "y": {"field": "y", "type": "quantitative", "scale": {"domain": [0.1, 0.9], "nice": false, "zero": false}, "axis": {"values": [0.1,0.2,0.3,0.4,0.5,0.6,0.7,0.8,0.9]}},
     "color": {"field": "s", "type": "nominal", "scale": {"domain": ["M","I","F","U"], "range": ["#ff0000","#00dd00","#0000ff","#ff44ff"]}, "legend": {"labelExpr": "{'M':'MRMR/CFS','I':'Inner Ensemble','F':'Fast Ensemble','U':'Full Ensemble'}[datum.label]"}},
     "strokeDash": {"field": "s", "type": "nominal", "scale": {"domain": ["M","I","F","U"], "range": [[10,0],[4,2.5],[1.5,2.5],[1,1.2]]}, "legend": {"labelExpr": "{'M':'MRMR/CFS','I':'Inner Ensemble','F':'Fast Ensemble','U':'Full Ensemble'}[datum.label]"}},
     "strokeWidth": {"field": "s", "type": "nominal", "scale": {"domain": ["M","I","F","U"], "range": [2,1.5,1.5,1.3]}, "legend": null}}},
   {"mark": {"type": "line", "opacity": 0}, "encoding": {
     "x": {"field": "x", "type": "quantitative", "axis": {"orient": "top", "labels": false, "values": [0,5,10,15,20,25,30,35,40,45,50]}},
     "y": {"field": "y", "type": "quantitative", "axis": {"orient": "right", "labels": false, "values": [0.1,0.2,0.3,0.4,0.5,0.6,0.7,0.8,0.9]}},
     "detail": {"field": "s"}}}
  ],
  "resolve": {"axis": {"x": "independent", "y": "independent"}}}
 ],
 "spacing": 31,
 "resolve": {"legend": {"color": "independent", "strokeDash": "independent"}}},
{"hconcat": [
 {"width": 266, "height": 240, "title": "(3.5) H.W. Digits", "data": {"name": "digits"},
  "layer": [
   {"mark": "line", "encoding": {
     "x": {"field": "x", "type": "quantitative", "scale": {"domain": [0, 50], "nice": false}, "axis": {"values": [0,5,10,15,20,25,30,35,40,45,50]}},
     "y": {"field": "y", "type": "quantitative", "scale": {"domain": [0.2, 1], "nice": false, "zero": false}, "axis": {"values": [0.2,0.3,0.4,0.5,0.6,0.7,0.8,0.9,1]}},
     "color": {"field": "s", "type": "nominal", "scale": {"domain": ["M","I","F","U"], "range": ["#ff0000","#00dd00","#0000ff","#ff44ff"]}, "legend": {"labelExpr": "{'M':'MRMR/CFS','I':'Inner Ensemble','F':'Fast Ensemble','U':'Full Ensemble'}[datum.label]"}},
     "strokeDash": {"field": "s", "type": "nominal", "scale": {"domain": ["M","I","F","U"], "range": [[10,0],[4,2.5],[1.5,2.5],[1,1.2]]}, "legend": {"labelExpr": "{'M':'MRMR/CFS','I':'Inner Ensemble','F':'Fast Ensemble','U':'Full Ensemble'}[datum.label]"}},
     "strokeWidth": {"field": "s", "type": "nominal", "scale": {"domain": ["M","I","F","U"], "range": [2,1.5,1.5,1.3]}, "legend": null}}},
   {"mark": {"type": "line", "opacity": 0}, "encoding": {
     "x": {"field": "x", "type": "quantitative", "axis": {"orient": "top", "labels": false, "values": [0,5,10,15,20,25,30,35,40,45,50]}},
     "y": {"field": "y", "type": "quantitative", "axis": {"orient": "right", "labels": false, "values": [0.2,0.3,0.4,0.5,0.6,0.7,0.8,0.9,1]}},
     "detail": {"field": "s"}}}
  ],
  "resolve": {"axis": {"x": "independent", "y": "independent"}}},
 {"width": 257, "height": 240, "title": "(3.6) Lymphoma", "data": {"name": "lymph"},
  "layer": [
   {"mark": "line", "encoding": {
     "x": {"field": "x", "type": "quantitative", "scale": {"domain": [0, 50], "nice": false}, "axis": {"values": [0,5,10,15,20,25,30,35,40,45,50]}},
     "y": {"field": "y", "type": "quantitative", "scale": {"domain": [0, 0.3], "nice": false, "zero": false}, "axis": {"values": [0,0.05,0.1,0.15,0.2,0.25,0.3]}},
     "color": {"field": "s", "type": "nominal", "scale": {"domain": ["M","I","F","U"], "range": ["#ff0000","#00dd00","#0000ff","#ff44ff"]}, "legend": {"labelExpr": "{'M':'MRMR/CFS','I':'Inner Ensemble','F':'Fast Ensemble','U':'Full Ensemble'}[datum.label]"}},
     "strokeDash": {"field": "s", "type": "nominal", "scale": {"domain": ["M","I","F","U"], "range": [[10,0],[4,2.5],[1.5,2.5],[1,1.2]]}, "legend": {"labelExpr": "{'M':'MRMR/CFS','I':'Inner Ensemble','F':'Fast Ensemble','U':'Full Ensemble'}[datum.label]"}},
     "strokeWidth": {"field": "s", "type": "nominal", "scale": {"domain": ["M","I","F","U"], "range": [2,1.5,1.5,1.3]}, "legend": null}}},
   {"mark": {"type": "line", "opacity": 0}, "encoding": {
     "x": {"field": "x", "type": "quantitative", "axis": {"orient": "top", "labels": false, "values": [0,5,10,15,20,25,30,35,40,45,50]}},
     "y": {"field": "y", "type": "quantitative", "axis": {"orient": "right", "labels": false, "values": [0,0.05,0.1,0.15,0.2,0.25,0.3]}},
     "detail": {"field": "s"}}}
  ],
  "resolve": {"axis": {"x": "independent", "y": "independent"}}},
 {"width": 266, "height": 240, "title": "(3.7) Leukemia", "data": {"name": "leuk"},
  "layer": [
   {"mark": "line", "encoding": {
     "x": {"field": "x", "type": "quantitative", "scale": {"domain": [0, 50], "nice": false}, "axis": {"values": [0,5,10,15,20,25,30,35,40,45,50]}},
     "y": {"field": "y", "type": "quantitative", "scale": {"domain": [0.1, 1], "nice": false, "zero": false}, "axis": {"values": [0.1,0.2,0.3,0.4,0.5,0.6,0.7,0.8,0.9,1]}},
     "color": {"field": "s", "type": "nominal", "scale": {"domain": ["M","I","F","U"], "range": ["#ff0000","#00dd00","#0000ff","#ff44ff"]}, "legend": {"labelExpr": "{'M':'MRMR/CFS','I':'Inner Ensemble','F':'Fast Ensemble','U':'Full Ensemble'}[datum.label]"}},
     "strokeDash": {"field": "s", "type": "nominal", "scale": {"domain": ["M","I","F","U"], "range": [[10,0],[4,2.5],[1.5,2.5],[1,1.2]]}, "legend": {"labelExpr": "{'M':'MRMR/CFS','I':'Inner Ensemble','F':'Fast Ensemble','U':'Full Ensemble'}[datum.label]"}},
     "strokeWidth": {"field": "s", "type": "nominal", "scale": {"domain": ["M","I","F","U"], "range": [2,1.5,1.5,1.3]}, "legend": null}}},
   {"mark": {"type": "line", "opacity": 0}, "encoding": {
     "x": {"field": "x", "type": "quantitative", "axis": {"orient": "top", "labels": false, "values": [0,5,10,15,20,25,30,35,40,45,50]}},
     "y": {"field": "y", "type": "quantitative", "axis": {"orient": "right", "labels": false, "values": [0.1,0.2,0.3,0.4,0.5,0.6,0.7,0.8,0.9,1]}},
     "detail": {"field": "s"}}}
  ],
  "resolve": {"axis": {"x": "independent", "y": "independent"}}},
 {"width": 263, "height": 240, "title": "(3.8) NCI60", "data": {"name": "nci"},
  "layer": [
   {"mark": "line", "encoding": {
     "x": {"field": "x", "type": "quantitative", "scale": {"domain": [0, 50], "nice": false}, "axis": {"values": [0,5,10,15,20,25,30,35,40,45,50]}},
     "y": {"field": "y", "type": "quantitative", "scale": {"domain": [0, 0.8], "nice": false, "zero": false}, "axis": {"values": [0,0.1,0.2,0.3,0.4,0.5,0.6,0.7,0.8]}},
     "color": {"field": "s", "type": "nominal", "scale": {"domain": ["M","I","F","U"], "range": ["#ff0000","#00dd00","#0000ff","#ff44ff"]}, "legend": {"labelExpr": "{'M':'MRMR/CFS','I':'Inner Ensemble','F':'Fast Ensemble','U':'Full Ensemble'}[datum.label]"}},
     "strokeDash": {"field": "s", "type": "nominal", "scale": {"domain": ["M","I","F","U"], "range": [[10,0],[4,2.5],[1.5,2.5],[1,1.2]]}, "legend": {"labelExpr": "{'M':'MRMR/CFS','I':'Inner Ensemble','F':'Fast Ensemble','U':'Full Ensemble'}[datum.label]"}},
     "strokeWidth": {"field": "s", "type": "nominal", "scale": {"domain": ["M","I","F","U"], "range": [2,1.5,1.5,1.3]}, "legend": null}}},
   {"mark": {"type": "line", "opacity": 0}, "encoding": {
     "x": {"field": "x", "type": "quantitative", "axis": {"orient": "top", "labels": false, "values": [0,5,10,15,20,25,30,35,40,45,50]}},
     "y": {"field": "y", "type": "quantitative", "axis": {"orient": "right", "labels": false, "values": [0,0.1,0.2,0.3,0.4,0.5,0.6,0.7,0.8]}},
     "detail": {"field": "s"}}}
  ],
  "resolve": {"axis": {"x": "independent", "y": "independent"}}}
 ],
 "spacing": 34,
 "resolve": {"legend": {"color": "independent", "strokeDash": "independent"}}}
]
}
